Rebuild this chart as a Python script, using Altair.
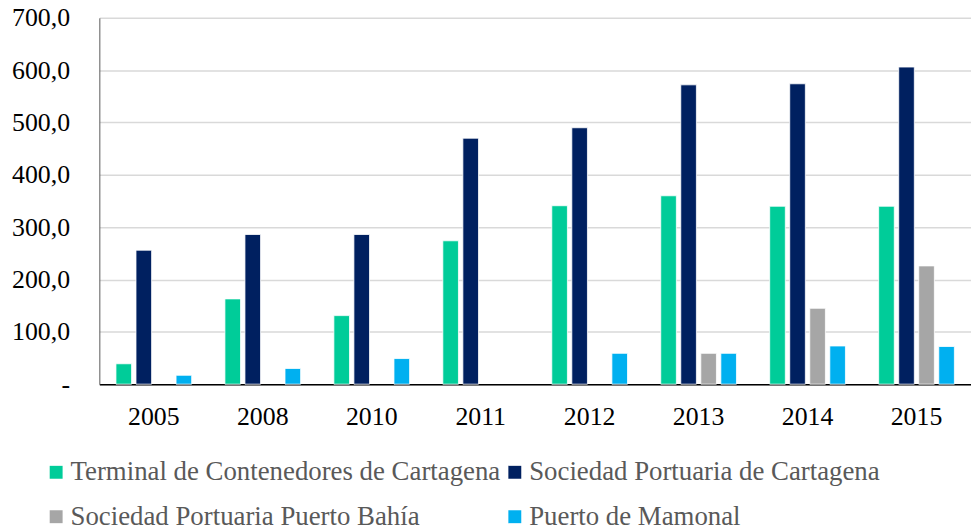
import altair as alt
import pandas as pd

years = ["2005", "2008", "2010", "2011", "2012", "2013", "2014", "2015"]
series = [
    "Terminal de Contenedores de Cartagena",
    "Sociedad Portuaria de Cartagena",
    "Sociedad Portuaria Puerto Bahía",
    "Puerto de Mamonal",
]
terminal = [39, 163, 131, 274, 341, 360, 340, 340]
portuaria = [256, 286, 286, 470, 490, 572, 574, 606]
bahia = [0, 0, 0, 0, 0, 59, 145, 226]
mamonal = [17, 30, 49, 0, 59, 59, 73, 72]
colors = ["#00CC99", "#002060", "#A6A6A6", "#00B0F0"]

rows = []
for s, vals in zip(series, [terminal, portuaria, bahia, mamonal]):
    for y, v in zip(years, vals):
        rows.append({"year": y, "series": s, "value": v})
df = pd.DataFrame(rows)

FONT = "Liberation Serif, Times New Roman, Times, serif"

chart = (
    alt.Chart(df)
    .transform_filter("datum.value > 0")
    .mark_bar(stroke="white", strokeWidth=0.8)
    .encode(
        x=alt.X(
            "year:N",
            sort=years,
            scale=alt.Scale(domain=years, paddingInner=0.305, paddingOuter=0.1525),
            axis=alt.Axis(
                title=None,
                labelAngle=0,
                ticks=False,
                domainColor="#000000",
                domainWidth=1.5,
                labelFont=FONT,
                labelFontSize=26,
                labelColor="#000000",
                labelPadding=20,
                grid=False,
            ),
        ),
        xOffset=alt.XOffset(
            "series:N",
            sort=series,
            scale=alt.Scale(domain=series, paddingInner=0.22, paddingOuter=0),
        ),
        y=alt.Y(
            "value:Q",
            scale=alt.Scale(domain=[0, 700], nice=False),
            axis=alt.Axis(
                title=None,
                values=[0, 100, 200, 300, 400, 500, 600, 700],
                ticks=False,
                domainColor="#595959",
                domainWidth=1,
                gridColor="#D9D9D9",
                gridWidth=1.5,
                labelFont=FONT,
                labelFontSize=26,
                labelColor="#000000",
                labelPadding=30,
                labelExpr="datum.value == 0 ? '-\u2007\u2009' : replace(format(datum.value, '.1f'), '.', ',')",
            ),
        ),
        color=alt.Color(
            "series:N",
            sort=series,
            scale=alt.Scale(domain=series, range=colors),
            legend=alt.Legend(
                title=None,
                orient="none",
                direction="horizontal",
                legendX=-57,
                legendY=444,
                columns=2,
                symbolType="square",
                symbolSize=169,
                symbolStrokeWidth=0,
                labelFont=FONT,
                labelFontSize=27,
                labelColor="#595959",
                labelLimit=0,
                rowPadding=17,
                columnPadding=1,
                labelOffset=1,
            ),
        ),
    )
    .properties(
        width=878,
        height=369,
        autosize=alt.AutoSizeParams(type="none"),
        padding={"left": 92, "top": 8, "right": 0, "bottom": 150},
    )
    .configure_view(stroke=None)
)

chart.save("out.html", embed_options={"renderer": "svg", "actions": False})
